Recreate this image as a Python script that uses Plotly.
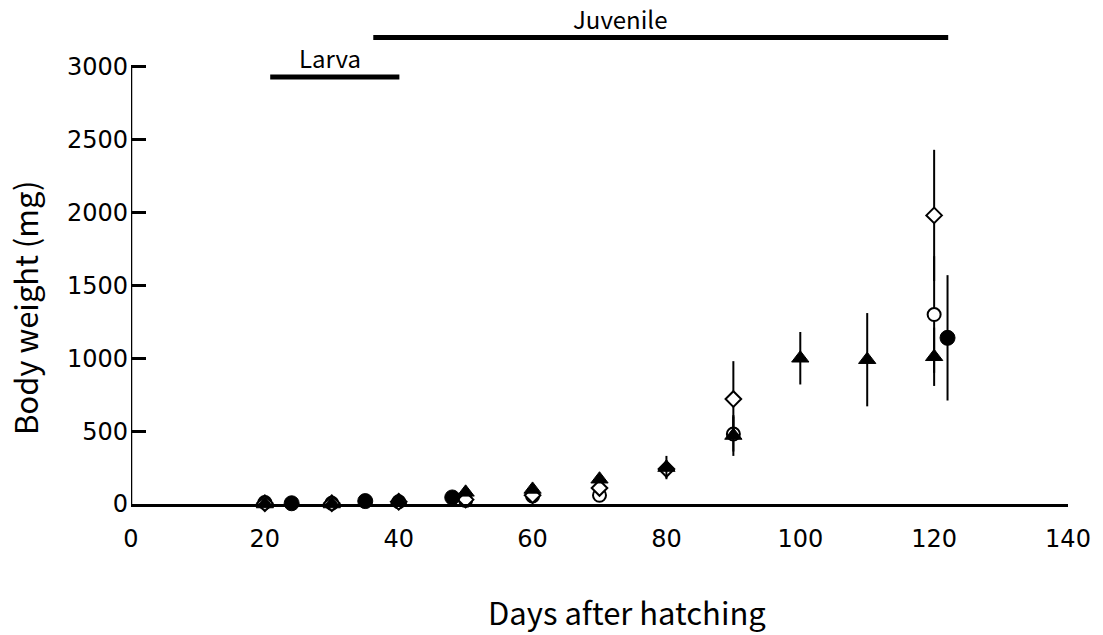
import plotly.graph_objects as go

# --- data ---
tri_days = [20, 30, 40, 50, 60, 70, 80, 90, 100, 110, 120]
tri_vals = [0, 0, 20, 80, 100, 170, 250, 470, 1000, 990, 1010]
tri_err = [5, 5, 10, 20, 20, 25, 80, 140, 180, 320, 200]

oc_days = [20, 30, 40, 50, 60, 70, 90, 120]
oc_vals = [10, 5, 15, 25, 55, 60, 480, 1300]
oc_err = [3, 3, 5, 10, 15, 20, 120, 400]

dia_days = [20, 30, 40, 50, 60, 70, 80, 90, 120]
dia_vals = [5, 5, 15, 30, 60, 110, 240, 720, 1980]
dia_err = [2, 2, 5, 10, 15, 40, 60, 260, 450]

fc_days = [24, 35, 48, 122]
fc_vals = [5, 20, 45, 1140]
fc_err = [2, 5, 10, 430]

x_ticks = [0, 20, 40, 60, 80, 100, 120, 140]
y_ticks = [0, 500, 1000, 1500, 2000, 2500, 3000]

phases = ["Larva", "Juvenile"]
phase_start = [20.8, 36.2]
phase_end = [40.1, 122.1]
phase_level = [2930, 3200]
phase_label_x = [29.7, 73.1]

fig = go.Figure()

def err(a):
    return dict(type="data", array=a, arrayminus=a, visible=True,
                color="black", thickness=2, width=0)

fig.add_trace(go.Scatter(x=oc_days, y=oc_vals, mode="markers", error_y=err(oc_err),
                         marker=dict(symbol="circle", size=13, color="white",
                                     line=dict(color="black", width=2)),
                         cliponaxis=False, showlegend=False))
fig.add_trace(go.Scatter(x=dia_days, y=dia_vals, mode="markers", error_y=err(dia_err),
                         marker=dict(symbol="diamond", size=12, color="white",
                                     line=dict(color="black", width=2)),
                         cliponaxis=False, showlegend=False))
fig.add_trace(go.Scatter(x=tri_days, y=tri_vals, mode="markers", error_y=err(tri_err),
                         marker=dict(symbol="triangle-up", size=15, color="black",
                                     line=dict(color="black", width=1)),
                         cliponaxis=False, showlegend=False))
fig.add_trace(go.Scatter(x=fc_days, y=fc_vals, mode="markers", error_y=err(fc_err),
                         marker=dict(symbol="circle", size=15, color="black",
                                     line=dict(color="black", width=1)),
                         cliponaxis=False, showlegend=False))

# y axis line (only up to 3000)
fig.add_shape(type="line", xref="x", yref="y", x0=0, x1=0, y0=0, y1=y_ticks[-1],
              line=dict(color="black", width=2.5))

for name, s, e, lv, lx in zip(phases, phase_start, phase_end, phase_level, phase_label_x):
    fig.add_shape(type="line", xref="x", yref="y", x0=s, x1=e, y0=lv, y1=lv,
                  line=dict(color="black", width=5))
    fig.add_annotation(x=lx, y=lv, text=name,
                       showarrow=False, yanchor="bottom", yshift=0,
                       font=dict(family="Noto Sans CJK JP", size=24, color="black"))

title_font = dict(family="Noto Sans CJK JP", size=31, color="black")
fig.add_annotation(xref="paper", yref="paper", x=0.529, y=-0.2245, text="Days after hatching",
                   showarrow=False, xanchor="center", yanchor="middle", font=title_font)
fig.add_annotation(xref="paper", yref="paper", x=-0.1131, y=0.4075, text="Body weight (mg)",
                   showarrow=False, xanchor="center", yanchor="middle", textangle=-90,
                   font=title_font)

fig.update_layout(
    width=1103, height=635,
    margin=dict(l=131, r=35, t=23, b=131),
    plot_bgcolor="white", paper_bgcolor="white",
    xaxis=dict(range=[0, 140], tickvals=x_ticks, showgrid=False, zeroline=False,
               showline=True, linecolor="black", linewidth=2.5, ticks="",
               ticklabelstandoff=11,
               tickfont=dict(family="DejaVu Sans", size=24, color="black")),
    yaxis=dict(range=[0, 3300], tickvals=y_ticks, showgrid=False, zeroline=False,
               showline=False, ticks="inside", ticklen=15, tickwidth=2.5, tickcolor="black",
               ticklabelstandoff=2,
               tickfont=dict(family="DejaVu Sans", size=24, color="black")),
)

fig.write_html("out.html")
